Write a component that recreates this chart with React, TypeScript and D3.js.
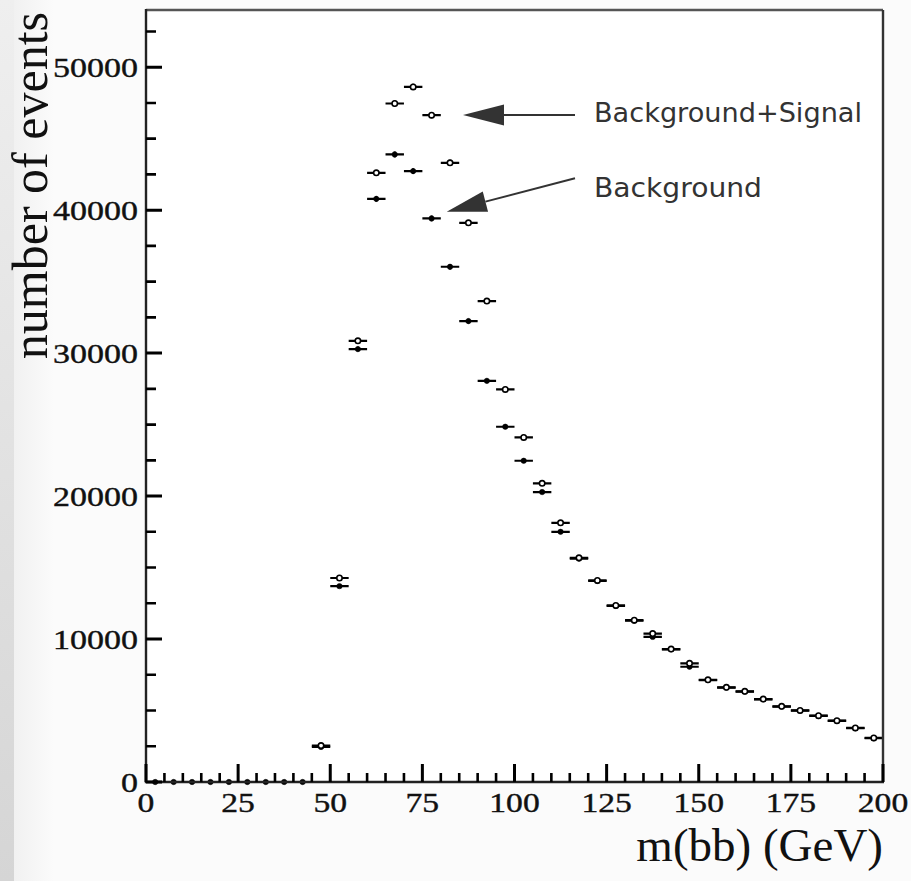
import React from "react";
import * as d3 from "d3";

const massBins = [
  2.5, 7.5, 12.5, 17.5, 22.5, 27.5, 32.5, 37.5, 42.5, 47.5,
  52.5, 57.5, 62.5, 67.5, 72.5, 77.5, 82.5, 87.5, 92.5, 97.5,
  102.5, 107.5, 112.5, 117.5, 122.5, 127.5, 132.5, 137.5, 142.5, 147.5,
  152.5, 157.5, 162.5, 167.5, 172.5, 177.5, 182.5, 187.5, 192.5, 197.5,
];
const backgroundCounts = [
  0, 0, 0, 0, 0, 0, 0, 0, 0, 2450,
  13700, 30280, 40790, 43900, 42730, 39420, 36040, 32240, 28060, 24850,
  22470, 20280, 17500, 15620, 14060, 12310, 11280, 10150, 9280, 8060,
  7130, 6600, 6320, 5780, 5270, 4990, 4620, 4270, 3760, 3060,
];
const signalPlusBackgroundCounts = [
  0, 0, 0, 0, 0, 0, 0, 0, 0, 2550,
  14270, 30860, 42610, 47460, 48620, 46640, 43310, 39110, 33640, 27460,
  24100, 20890, 18130, 15680, 14100, 12350, 11320, 10380, 9300, 8300,
  7150, 6620, 6340, 5800, 5290, 5010, 4640, 4290, 3780, 3080,
];
const binWidth = 5;
const xTickValues = [0, 25, 50, 75, 100, 125, 150, 175, 200];
const yTickValues = [0, 10000, 20000, 30000, 40000, 50000];
const xTitle = "m(bb) (GeV)";
const yTitle = "number of events";
const labelSignal = "Background+Signal";
const labelBackground = "Background";

export default function App() {
  const W = 911, H = 881;
  const x = d3.scaleLinear().domain([0, 200]).range([146, 883]);
  const y = d3.scaleLinear().domain([0, 54000]).range([782, 10]);
  const xMinor = d3.range(0, 201, 5).filter((v) => v % 25 !== 0);
  const yMinor = d3.range(0, 54000, 2500).filter((v) => v % 10000 !== 0);
  const serif = "'Liberation Serif', 'Times New Roman', serif";
  const sans = "'DejaVu Sans', 'Open Sans', sans-serif";
  const ink = "#000";
  const x0 = x(0), y0 = y(0), yTop = y(54000), xR = x(200);

  const majorTickPath =
    xTickValues.map((t) => `M${x(t)},${y0}V${y0 - 18}`).join("") +
    yTickValues.map((t) => `M${x0},${y(t)}H${x0 + 16}`).join("");
  const minorTickPath =
    xMinor.map((t) => `M${x(t)},${y0}V${y0 - 9}`).join("") +
    yMinor.map((t) => `M${x0},${y(t)}H${x0 + 10}`).join("");

  const drawSeries = (vals: number[], open: boolean, key: string) =>
    massBins.map((m, i) => {
      const v = vals[i];
      const cx = x(m);
      const cy = y(v);
      const err = Math.sqrt(v);
      if (v === 0 && open) return null;
      return (
        <g key={key + i}>
          {v > 0 && (
            <path d={`M${x(m - binWidth / 2)},${cy}H${x(m + binWidth / 2)}M${cx},${y(v - err)}V${y(v + err)}`}
              stroke={ink} strokeWidth={2.2} fill="none" />
          )}
          <circle cx={cx} cy={cy} r={2.7} fill={open ? "#fff" : ink} stroke={ink} strokeWidth={open ? 1.6 : 0.5} />
        </g>
      );
    });

  return (
    <svg width={W} height={H} style={{ position: "absolute", left: 0, top: 0, background: "#fbfbfb" }}>
      <defs>
        <linearGradient id="strip" x1="0" y1="0" x2="0" y2="1">
          <stop offset="0" stopColor="#efefef" />
          <stop offset="1" stopColor="#d5d5d5" />
        </linearGradient>
        <linearGradient id="strip2" x1="0" y1="0" x2="1" y2="0">
          <stop offset="0" stopColor="#f1f1f1" />
          <stop offset="1" stopColor="#fbfbfb" />
        </linearGradient>
      </defs>
      <rect x={0} y={0} width={W} height={H} fill="#fbfbfb" />
      <rect x={14} y={0} width={40} height={H} fill="url(#strip2)" />
      <rect x={0} y={0} width={14} height={H} fill="url(#strip)" />
      <rect x={x0} y={yTop} width={xR - x0} height={y0 - yTop} fill="#fff" />

      {/* data */}
      {drawSeries(backgroundCounts, false, "b")}
      {drawSeries(signalPlusBackgroundCounts, true, "s")}

      {/* frame */}
      <path d={`M${x0},${yTop}H${xR}`} stroke="#555" strokeWidth={2.6} fill="none" />
      <path d={`M${xR},${yTop}V${y0}`} stroke="#333" strokeWidth={2.4} fill="none" />
      <path d={`M${x0},${yTop - 1}V${y0}H${xR + 1}`} stroke="#222" strokeWidth={2.4} fill="none" />

      {/* ticks */}
      <path d={majorTickPath} stroke="#000" strokeWidth={3} fill="none" />
      <path d={minorTickPath} stroke="#000" strokeWidth={2.6} fill="none" />

      {/* tick labels */}
      {xTickValues.map((t) => (
        <text key={"xl" + t} x={x(t)} y={y0 + 30} textAnchor="middle" fontFamily={serif} fontSize={28} fill="#111"
          stroke="#111" strokeWidth={0.4}
          textLength={String(t).length * 16.8} lengthAdjust="spacingAndGlyphs">
          {String(t)}
        </text>
      ))}
      {yTickValues.map((t) => (
        <text key={"yl" + t} x={x0 - 8} y={y(t) + 9.5} textAnchor="end" fontFamily={serif} fontSize={28} fill="#111"
          stroke="#111" strokeWidth={0.4}
          textLength={String(t).length * 17} lengthAdjust="spacingAndGlyphs">
          {String(t)}
        </text>
      ))}

      {/* axis titles */}
      <text x={xR} y={861} textAnchor="end" fontFamily={serif} fontSize={47} fill="#111">{xTitle}</text>
      <text transform="translate(47,12) rotate(-90)" textAnchor="end" fontFamily={serif} fontSize={50} fill="#111">{yTitle}</text>

      {/* annotations */}
      <text x={594} y={122} fontFamily={sans} fontSize={26} fill="#333" textLength={268} lengthAdjust="spacingAndGlyphs">{labelSignal}</text>
      <text x={594} y={197} fontFamily={sans} fontSize={26} fill="#333" textLength={168} lengthAdjust="spacingAndGlyphs">{labelBackground}</text>
      <path d="M575,115H500" stroke="#333" strokeWidth={2} fill="none" />
      <path d="M463,115 L504,104.5 L504,125.5 Z" fill="#333" />
      {(() => {
        const x1 = 575, y1 = 178.3, tx = 446.7, ty = 211.7;
        const ang = Math.atan2(ty - y1, tx - x1);
        const len = 40, hw = 10.5;
        const bx = tx - len * Math.cos(ang), by = ty - len * Math.sin(ang);
        const px = -Math.sin(ang) * hw, py = Math.cos(ang) * hw;
        return (
          <g>
            <path d={`M${x1},${y1}L${bx},${by}`} stroke="#333" strokeWidth={2} fill="none" />
            <path d={`M${tx},${ty} L${bx + px},${by + py} L${bx - px},${by - py} Z`} fill="#333" />
          </g>
        );
      })()}
    </svg>
  );
}
